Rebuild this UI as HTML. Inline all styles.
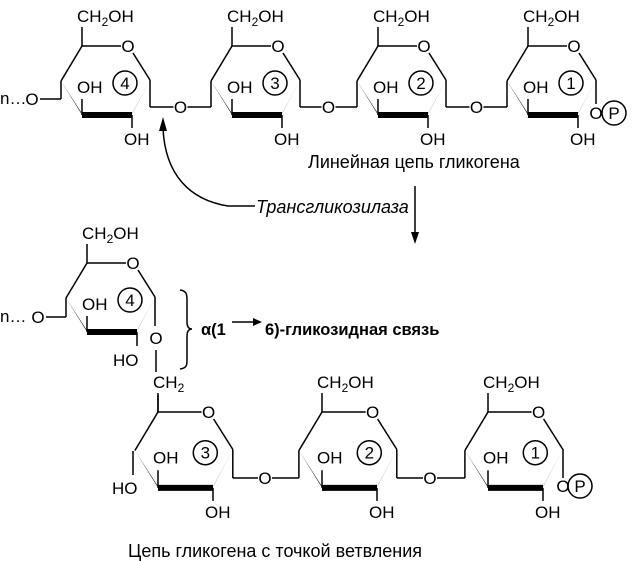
<!DOCTYPE html>
<html><head><meta charset="utf-8"><style>
html,body{margin:0;padding:0;background:#fff;width:633px;height:561px;overflow:hidden}
svg{display:block}
text{font-family:"Liberation Sans",Arial,sans-serif;font-size:17px;fill:#000}
</style></head><body>
<svg id="s" width="633" height="561" viewBox="0 0 633 561" xmlns="http://www.w3.org/2000/svg">
<g id="g" stroke="#000" stroke-width="1.5" fill="none"></g>
<text x="308" y="168" style="font-size:18px">Линейная цепь гликогена</text>
<text x="256" y="213" font-style="italic" style="font-size:18px">Трансгликозилаза</text>
<text x="128" y="557" style="font-size:18px">Цепь гликогена с точкой ветвления</text>
<text x="201" y="335" font-weight="bold" style="font-size:16.5px">α(1</text>
<text x="265" y="335" font-weight="bold" style="font-size:16.5px">6)-гликозидная связь</text>
<path d="M255,206 L228,206 C190,200 165,175 163,128" stroke="#000" stroke-width="1.5" fill="none"/>
<polygon points="163,117 159,131 167,131" fill="#000"/>
<line x1="415" y1="186" x2="415" y2="236" stroke="#000" stroke-width="1.5"/>
<polygon points="415,244 411,232 419,232" fill="#000"/>
<line x1="232" y1="322" x2="255" y2="322" stroke="#000" stroke-width="1.5"/>
<polygon points="262,322 253,318 253,326" fill="#000"/>
<path d="M180,290 C188,291 187,296 187,305 L187,322 C187,327 189,329 192,329 C189,329 187,331 187,336 L187,355 C187,364 188,368 180,369" stroke="#000" stroke-width="1.5" fill="none"/>
</svg>
<script>
var NS="http://www.w3.org/2000/svg",svg=document.getElementById('s'),g=document.getElementById('g');
function el(t,a,p){var e=document.createElementNS(NS,t);for(var k in a)e.setAttribute(k,a[k]);(p||g).appendChild(e);return e;}
function L(x1,y1,x2,y2){el('line',{x1:x1,y1:y1,x2:x2,y2:y2});}
function T(x,y,s,anchor){var e=el('text',{x:x,y:y},svg);if(anchor)e.setAttribute('text-anchor',anchor);e.textContent=s;return e;}
function ch2oh(x,y,oh){var e=el('text',{x:x,y:y},svg);e.appendChild(document.createTextNode('CH'));var t=el('tspan',{dy:4,'font-size':'12'},e);t.textContent='2';var t2=el('tspan',{dy:-4},e);t2.textContent=oh?'OH':'';}
function circ(x,y,r,s){el('circle',{cx:x,cy:y,r:r});T(x,y+6,s,'middle');}
function O(x,y){T(x,y+6,'O','middle');}
function ring(cx,cy,s,num,o){
 var P=function(a,b){return [cx+a*s,cy+b*s];};
 var C5=P(0,0),Or=P(46,0),C1=P(68,34),C2=P(50,69),C3=P(0,69),C4=P(-21,35);
 L(C5[0],C5[1],Or[0]-7,Or[1]);O(Or[0],Or[1]);L(Or[0]+5,Or[1]+7,C1[0],C1[1]);
 L(C4[0],C4[1],C5[0],C5[1]);
 el('polygon',{points:C4[0]+','+C4[1]+' '+(C3[0]-1)+','+(C3[1]-3)+' '+(C3[0]+2)+','+(C3[1]+3),fill:'#000',stroke:'none'},g);
 el('polygon',{points:C3[0]+','+(C3[1]-3)+' '+C2[0]+','+(C2[1]-3)+' '+C2[0]+','+(C2[1]+3)+' '+C3[0]+','+(C3[1]+3),fill:'#000',stroke:'none'},g);
 el('polygon',{points:C1[0]+','+C1[1]+' '+(C2[0]-2)+','+(C2[1]+3)+' '+(C2[0]+1)+','+(C2[1]-3),fill:'#000',stroke:'none'},g);
 if(o.top==='ch2oh'){L(C5[0],C5[1],C5[0],C5[1]-19);ch2oh(C5[0]-5,C5[1]-24,true);}
 else if(o.top==='ch2'){L(C5[0],C5[1],C5[0],C5[1]-17);}
 L(C3[0],C3[1],C3[0],C3[1]-16*s);T(C3[0]-5,C3[1]-22*s,'OH');
 circ(cx+43*s,cy+37*s,12,num);
 if(o.c2==='OH'){L(C2[0],C2[1],C2[0],C2[1]+13);T(C2[0]-8,C2[1]+30,'OH');}
 else if(o.c2==='HO'){L(C2[0],C2[1],C2[0],C2[1]+14);T(C2[0]-24,C2[1]+34,'HO');}
 return {C1:C1,C4:C4};
}
var t=[[82,46,'4'],[232,46,'3'],[378,46,'2'],[528,46,'1']].map(function(a){return ring(a[0],a[1],1,a[2],{top:'ch2oh',c2:'OH'});});
L(61,81,61,99);L(61,99,40,99);O(32,99);T(0,104,'n…');
for(var i=0;i<3;i++){var a=t[i].C1,b=t[i+1].C4,m=(a[0]+b[0])/2;
 L(a[0],a[1],a[0],107);L(a[0],107,m-7,107);O(m,107);L(m+7,107,b[0],107);L(b[0],107,b[0],b[1]);}
L(596,80,596,104);O(596,113);circ(614,113,12,'P');
var r4=ring(87,263,1,'4',{top:'ch2oh',c2:'HO'});
L(66,298,66,317);L(66,317,46,317);O(38,317);T(0,322,'n…');
L(155,297,155,326);O(156,338);L(156,350,156,372);
var e=el('text',{x:153,y:388},svg);e.appendChild(document.createTextNode('CH'));var ts=el('tspan',{dy:4,'font-size':'12'},e);ts.textContent='2';
var b=[[158,412,'3'],[322,412,'2'],[488,412,'1']].map(function(a,i){return ring(a[0],a[1],1.1,a[2],{top:i==0?'ch2':'ch2oh',c2:'OH'});});
L(158,412,158,393);
L(133,451,133,475);T(112,494,'HO');
var lk=[[265,478],[430,478]];
for(var i=0;i<2;i++){var a=b[i].C1,c=b[i+1].C4,m=lk[i][0];
 L(a[0],a[1],a[0],478);L(a[0],478,m-7,478);O(m,478);L(m+7,478,c[0],478);L(c[0],478,c[0],c[1]);}
L(563,449,563,478);O(563,486);circ(580,486,12,'P');
</script>
</body></html>
